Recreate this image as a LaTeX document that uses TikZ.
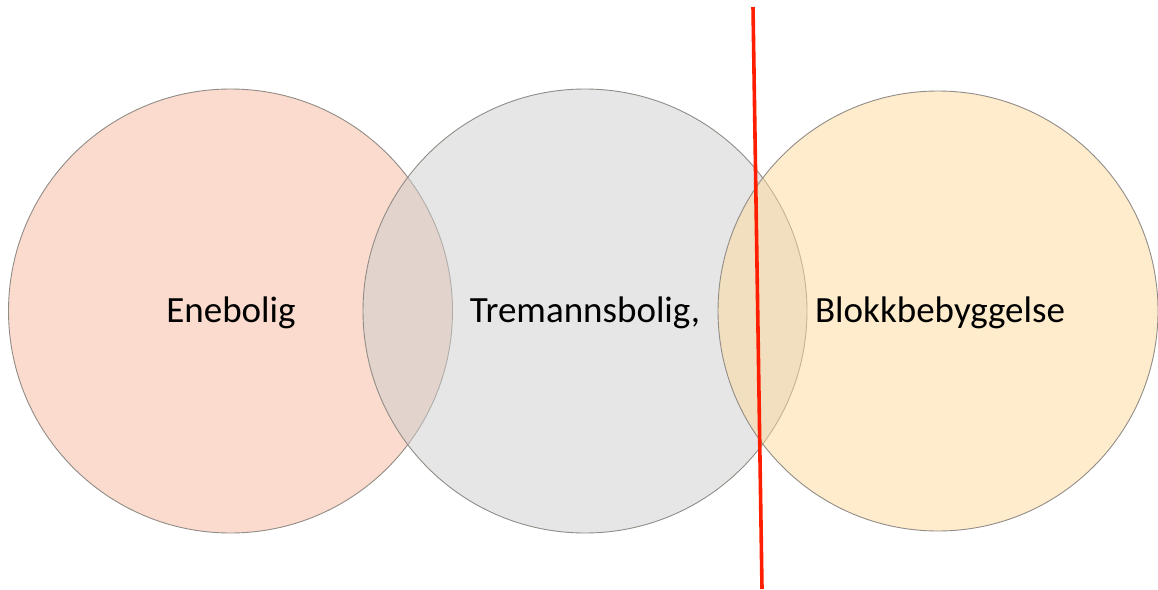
\documentclass[tikz,border=0pt]{standalone}
\usepackage{fontspec}
\setmainfont{Carlito}
\definecolor{cleft}{RGB}{245,183,155}
\definecolor{cmid}{RGB}{205,205,205}
\definecolor{cright}{RGB}{253,217,153}
\definecolor{rim}{RGB}{145,140,135}
\definecolor{redline}{RGB}{255,30,0}
\tikzset{
  ring/.style={circle, minimum size=444pt, inner sep=0pt, fill opacity=0.5, draw=rim, draw opacity=1, line width=0.9pt},
  lbl/.style={font=\fontsize{37}{44}\selectfont, text=black, inner sep=0pt},
  cut/.style={draw=redline, line width=3.6pt}
}
\begin{document}
\begin{tikzpicture}[x=1pt,y=-1pt]
\useasboundingbox (0,0) rectangle (1158,589);
\node[ring, fill=cleft] (c1) at (230.5,311) {};
\node[ring, fill=cmid] (c2) at (585,311) {};
\node[ring, fill=cright, minimum size=440pt] (c3) at (938,311) {};
\node[lbl] (t1) at (231,313) {Enebolig};
\node[lbl] (t2) at (585,313) {Tremannsbolig,};
\node[lbl] (t3) at (940,313) {Blokkbebyggelse};
\coordinate (rtop) at (753,7);
\coordinate (rbot) at (762,589);
\draw[cut] (rtop) -- (rbot);
\end{tikzpicture}
\end{document}
